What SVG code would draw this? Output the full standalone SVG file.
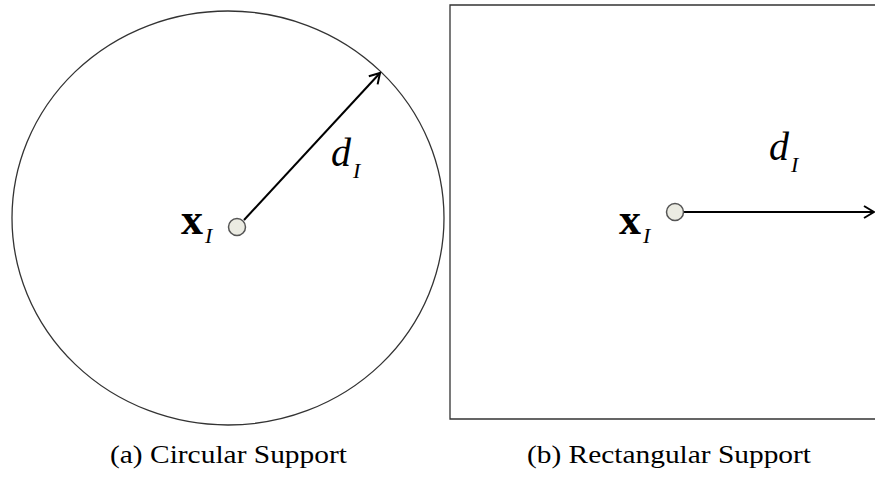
<svg xmlns="http://www.w3.org/2000/svg" width="875" height="477" viewBox="0 0 875 477">
<style>
.bd{fill:none;stroke:#333;stroke-width:1.3}
.pt{fill:#ebebe2;stroke:#555;stroke-width:1.5}
.ar{fill:none;stroke:#000;stroke-width:2}
.xb{font-family:"Liberation Serif","Times New Roman",serif;font-weight:bold;font-size:44px;fill:#000}
.it{font-family:"Liberation Serif","Times New Roman",serif;font-style:italic;fill:#000}
.cap{font-family:"Liberation Serif","Times New Roman",serif;font-size:25px;fill:#000}
</style>
<defs>
<marker id="ah" markerWidth="14" markerHeight="14" refX="12" refY="7" orient="auto" markerUnits="userSpaceOnUse">
<path d="M2,1 L12,7 L2,13" fill="none" stroke="#000" stroke-width="2"/>
</marker>
</defs>
<g id="circular">
<ellipse class="bd" cx="228" cy="218" rx="216" ry="207"/>
</g>
<g id="rect">
<path class="bd" d="M878,5 H450 V419 H878"/>
</g>
<g id="connectors">
<line class="ar" x1="244" y1="220" x2="380" y2="73" marker-end="url(#ah)"/>
<line class="ar" x1="684" y1="212" x2="874" y2="212" marker-end="url(#ah)"/>
</g>
<g id="pointA">
<circle class="pt" cx="237" cy="227" r="8.5"/>
<text class="xb" x="181" y="234">x</text>
<text class="it" x="205" y="243" font-size="22">I</text>
<text class="it" x="331" y="166" font-size="40">d</text>
<text class="it" x="353" y="178" font-size="22">I</text>
</g>
<g id="pointB">
<circle class="pt" cx="675" cy="212" r="8.5"/>
<text class="xb" x="619" y="234">x</text>
<text class="it" x="643" y="243" font-size="22">I</text>
<text class="it" x="769" y="160" font-size="40">d</text>
<text class="it" x="791" y="172" font-size="22">I</text>
</g>
<g id="captions">
<text class="cap" x="110" y="463" textLength="237" lengthAdjust="spacingAndGlyphs">(a) Circular Support</text>
<text class="cap" x="527" y="463" textLength="284" lengthAdjust="spacingAndGlyphs">(b) Rectangular Support</text>
</g>
</svg>
